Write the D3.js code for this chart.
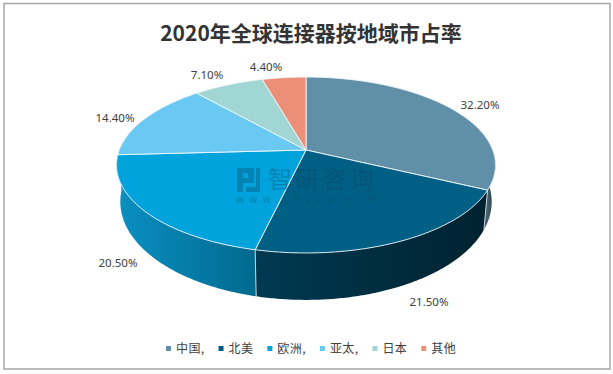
<!DOCTYPE html>
<html>
<head>
<meta charset="utf-8">
<script src="https://cdnjs.cloudflare.com/ajax/libs/d3/7.8.5/d3.min.js"></script>
<style>
html,body{margin:0;padding:0;background:#fff;}
svg{display:block;}
text{font-family:"Noto Sans CJK SC","Noto Sans",sans-serif;}
</style>
</head>
<body>
<div id="chart"></div>
<script>
// values
var regions = ["中国,", "北美", "欧洲,", "亚太,", "日本", "其他"];
var shares = [32.2, 21.5, 20.5, 14.4, 7.1, 4.4];
var shareLabels = ["32.20%", "21.50%", "20.50%", "14.40%", "7.10%", "4.40%"];
var topColors = ["#5f90a8", "#005f84", "#00a3dc", "#69c9f3", "#a0d6d4", "#ec8f78"];
var sideLeft = ["#46606d", "#003a52", "#0b8fc2", "#4aa5cc", "#7db0b0", "#c07060"];
var sideRight = ["#22343e", "#00222f", "#006a8f", "#4aa5cc", "#7db0b0", "#c07060"];
var labelPos = [[480,105],[429,302],[118,263],[115,118],[207,75],[266,67]];

var W = 613, H = 374;
var cx = 306, cy = 150, R = 186.7, K = 85.4, persp = 0.1705;

var svg = d3.select("#chart").append("svg").attr("width", W).attr("height", H);
var defs = svg.append("defs");

svg.append("rect").attr("x", 4).attr("y", 3.5).attr("width", 606).attr("height", 365.5)
    .attr("fill", "#fff").attr("stroke", "#a6a6a6").attr("stroke-width", 1.5);

svg.append("text").attr("x", 311).attr("y", 41).attr("text-anchor", "middle")
    .attr("font-size", 21).attr("font-weight", 700).attr("fill", "#333")
    .text("2020年全球连接器按地域市占率");

var arcs = d3.pie().value(function(d){ return d; }).sort(null)(shares);

// rim of the disc, perspective projection of the unit circle
function rimTop(a){
    var u = Math.sin(a), v = -Math.cos(a), s = 1 / (1 - persp * v);
    return [cx + R * u * s, cy + K * v * s];
}
function rimBottom(a){
    var u = Math.sin(a), v = -Math.cos(a), s = 1 / (1 - persp * v);
    return [cx + 0.98 * R * u * s, cy + 35 + 1.116 * K * v * s];
}
function steps(a0, a1){
    var n = Math.max(2, Math.ceil((a1 - a0) / 0.01)), out = [];
    for (var i = 0; i <= n; i++) out.push(a0 + (a1 - a0) * i / n);
    return out;
}
var line = d3.line();

// sides, only the front half shows
var frontStart = Math.PI * 0.5, frontEnd = Math.PI * 1.62;
var sides = svg.append("g");
arcs.forEach(function(d, i){
    var a0 = Math.max(d.startAngle, frontStart), a1 = Math.min(d.endAngle, frontEnd);
    if (a1 <= a0) return;
    var pts = steps(a0, a1);
    var upper = pts.map(rimTop), lower = pts.map(rimBottom).reverse();
    var grad = defs.append("linearGradient").attr("id", "side" + i)
        .attr("gradientUnits", "userSpaceOnUse")
        .attr("x1", d3.min(upper, function(p){ return p[0]; })).attr("y1", 0)
        .attr("x2", d3.max(upper, function(p){ return p[0]; })).attr("y2", 0);
    grad.append("stop").attr("offset", 0).attr("stop-color", sideLeft[i]);
    grad.append("stop").attr("offset", 1).attr("stop-color", sideRight[i]);
    sides.append("path").attr("d", line(upper.concat(lower)) + "Z")
        .attr("fill", "url(#side" + i + ")");
});
// light edges where two side walls meet
arcs.forEach(function(d){
    if (d.endAngle < frontStart || d.endAngle > Math.PI * 1.1) return;
    sides.append("path").attr("d", line([rimTop(d.endAngle), rimBottom(d.endAngle)]))
        .attr("stroke", "#c4d2d8").attr("stroke-width", 1).attr("fill", "none");
});

// top face
svg.append("g").selectAll("path").data(arcs).enter().append("path")
    .attr("d", function(d){
        return line([[cx, cy]].concat(steps(d.startAngle, d.endAngle).map(rimTop))) + "Z";
    })
    .attr("fill", function(d, i){ return topColors[i]; })
    .attr("stroke", "#f2f7f9").attr("stroke-width", 0.9).attr("stroke-linejoin", "round");

// watermark
var mark = svg.append("g").attr("fill", "#0b3f5f").attr("opacity", 0.3);
mark.append("path").attr("d", "M237 168h17v15h-11v9h-6zM243 173v5h5v-5zM256 168h4v24h-14v-5h10z");
mark.append("text").attr("x", 268).attr("y", 188).attr("font-size", 24).attr("letter-spacing", 3.2).text("智研咨询");
mark.append("text").attr("x", 236).attr("y", 203).attr("font-size", 10).attr("letter-spacing", 5.1)
    .style("font-family", "'DejaVu Sans'").text("www.chyxx.com");

// data labels
svg.append("g").selectAll("text").data(shareLabels).enter().append("text")
    .attr("x", function(d, i){ return labelPos[i][0]; })
    .attr("y", function(d, i){ return labelPos[i][1] + 4; })
    .attr("text-anchor", "middle").attr("font-size", 11.5).attr("fill", "#404040")
    .style("font-family", "'Noto Sans'")
    .text(function(d){ return d; });

// legend, laid out by text width
var legend = svg.append("g");
var lx = 166;
regions.forEach(function(name, i){
    legend.append("rect").attr("x", lx).attr("y", 346).attr("width", 5).attr("height", 5).attr("fill", topColors[i]);
    var t = legend.append("text").attr("x", lx + 10).attr("y", 352.5)
        .attr("font-size", 12).attr("letter-spacing", 0.4).attr("fill", "#404040").text(name);
    lx += t.node().getComputedTextLength() + 24;
});
</script>
</body>
</html>
